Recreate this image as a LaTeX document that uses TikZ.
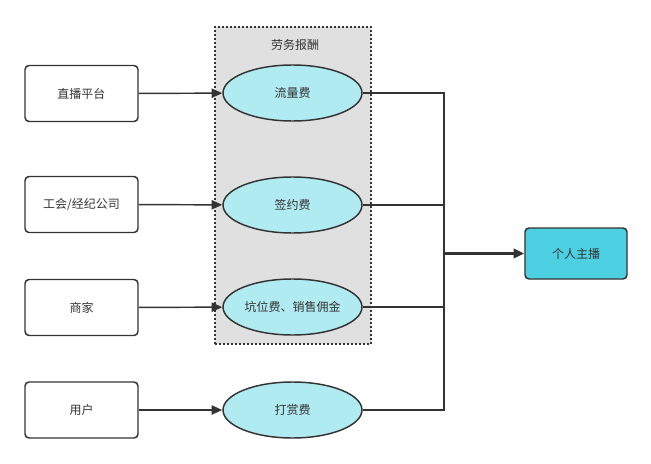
\documentclass[tikz,border=0pt]{standalone}
\usepackage{fontspec}
\setmainfont{Noto Sans CJK SC}
\usetikzlibrary{shapes.geometric,arrows.meta}
\definecolor{ln}{HTML}{333333}
\definecolor{grp}{HTML}{E0E0E0}
\definecolor{ell}{HTML}{B1EBF2}
\definecolor{tgt}{HTML}{4DD0E1}
\begin{document}
\begin{tikzpicture}[x=0.75pt,y=-0.75pt,
  font=\fontsize{9}{11}\selectfont, text=ln,
  srcbox/.style={draw=ln,line width=1.1pt,rounded corners=3pt,minimum width=113*0.75pt,minimum height=56*0.75pt,inner sep=0pt},
  feebox/.style={ellipse,draw=ln,line width=1.1pt,fill=ell,minimum width=139*0.75pt,minimum height=56*0.75pt,inner sep=0pt},
  arr/.style={draw=ln,line width=1.1pt,-{Triangle[length=8pt,width=7pt]}},
  conn/.style={draw=ln,line width=1.1pt}]
\useasboundingbox (0,0) rectangle (651,464);
\node[draw=ln,line width=1.1pt,dash pattern=on 1.5pt off 1.5pt,fill=grp,minimum width=156*0.75pt,minimum height=317*0.75pt,inner sep=0pt] (grp) at (293,185.5) {};
\node (grplabel) at (295,45) {劳务报酬};
\node[srcbox] (s1) at (81.5,93.5) {直播平台};
\node[srcbox] (s2) at (81.5,204.5) {工会/经纪公司};
\node[srcbox] (s3) at (81.5,307.5) {商家};
\node[srcbox] (s4) at (81.5,410) {用户};
\node[feebox] (f1) at (292.5,93) {流量费};
\node[feebox] (f2) at (292.5,205) {签约费};
\node[feebox] (f3) at (292.5,307) {坑位费、销售佣金};
\node[feebox] (f4) at (292.5,410) {打赏费};
\node[draw=ln,line width=1.1pt,rounded corners=3pt,fill=tgt,minimum width=102*0.75pt,minimum height=51*0.75pt,inner sep=0pt] (t) at (576,253.5) {个人主播};
\coordinate (bus) at (444,253.5);
\foreach \i in {1,2,3,4} {\draw[arr] (s\i) -- (f\i);}
\foreach \i in {1,2,3,4} {\draw[conn] (f\i.east) -| (bus);}
\draw[draw=ln,line width=2pt,-{Triangle[length=8pt,width=7pt]}] (bus) -- (t);
\end{tikzpicture}
\end{document}
